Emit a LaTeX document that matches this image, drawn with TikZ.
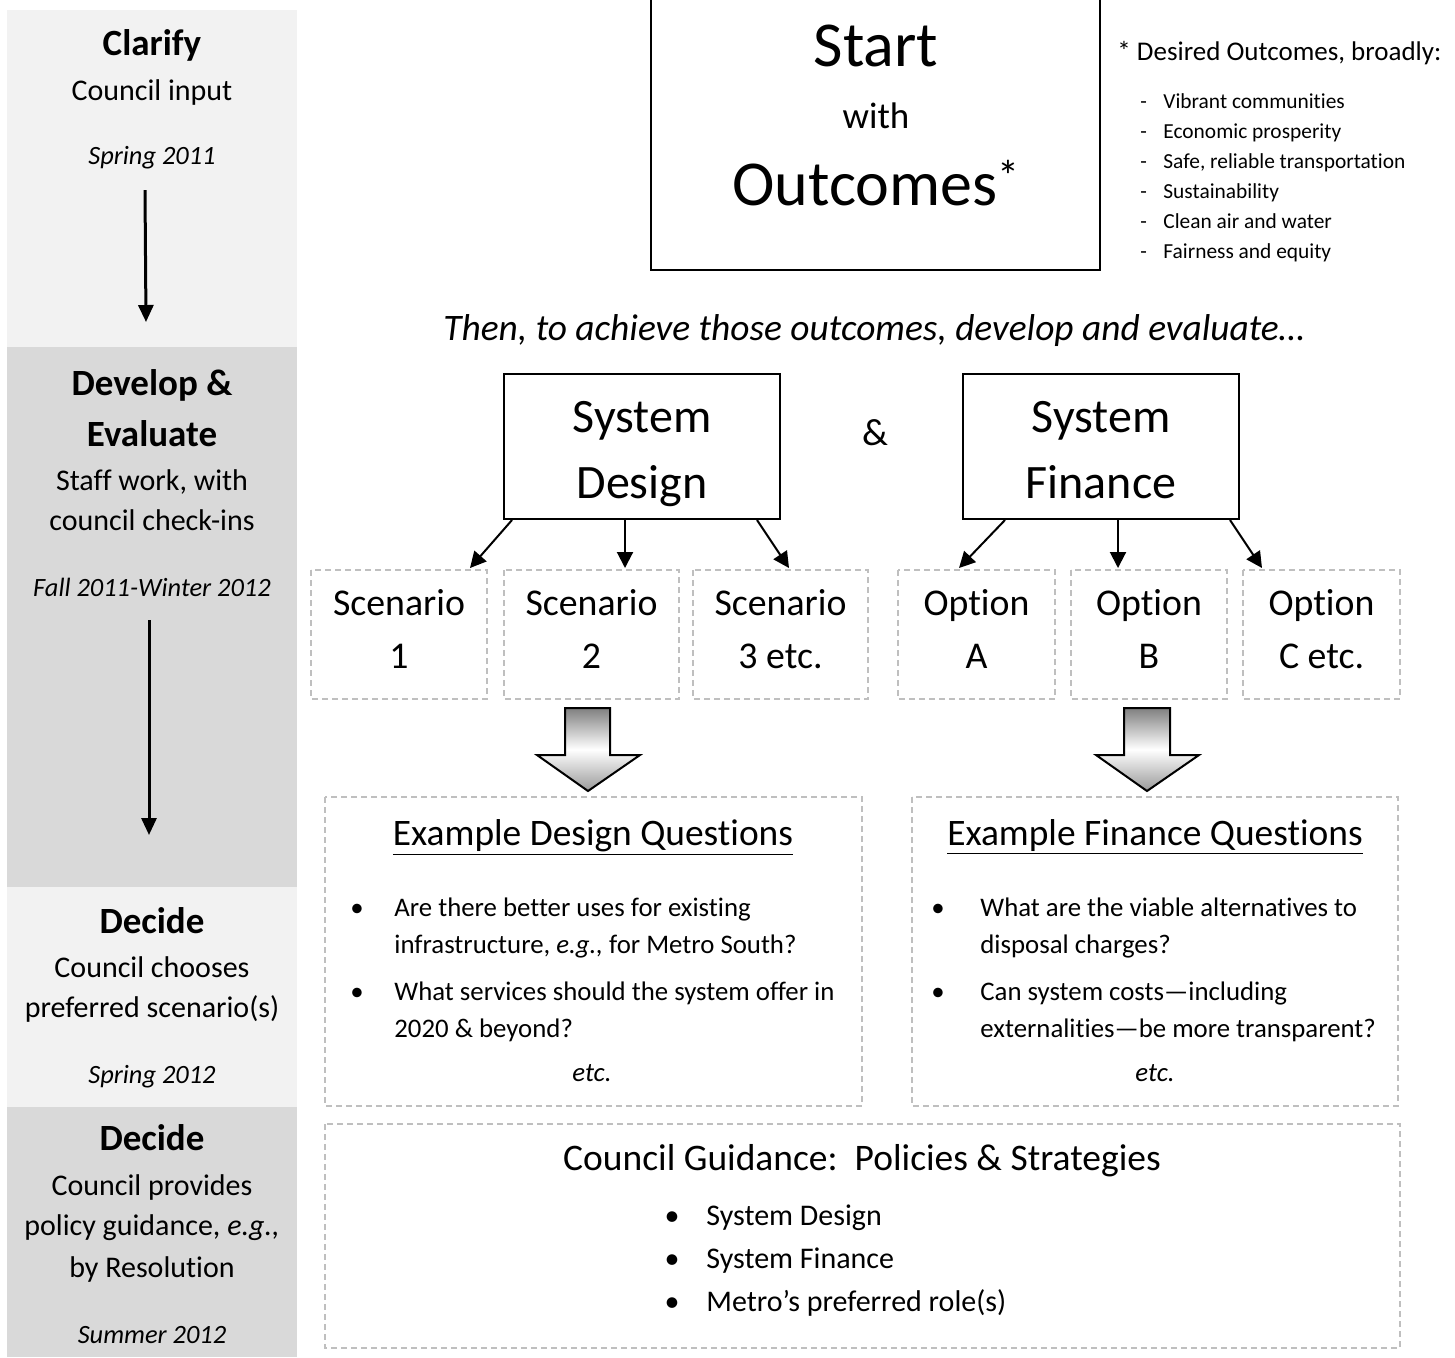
\documentclass[tikz,border=0pt]{standalone}
\usepackage{fontspec}
\setmainfont{Carlito}[Ligatures=NoCommon]
\usetikzlibrary{arrows.meta}
\definecolor{panellight}{HTML}{F2F2F2}
\definecolor{paneldark}{HTML}{D9D9D9}
\definecolor{dashgray}{HTML}{BFBFBF}
\newcommand{\fs}[1]{\fontsize{#1}{#1}\selectfont}
\tikzset{
  txt/.style={inner sep=0pt, anchor=base},
  ltxt/.style={inner sep=0pt, anchor=base west},
  solidbox/.style={draw=black, line width=0.75pt},
  dashbox/.style={draw=dashgray, line width=1pt, dash pattern=on 3pt off 2pt},
  thinarrow/.style={line width=1pt, -{Triangle[length=8pt,width=8pt]}},
  thickarrow/.style={line width=1.5pt, -{Triangle[length=8.5pt,width=7.5pt]}},
  bigarrow/.style={draw=black, line width=1pt, top color=gray, bottom color=gray!80, middle color=white},
}
\begin{document}
\begin{tikzpicture}[x=0.5pt,y=-0.5pt]
\useasboundingbox (0,0) rectangle (1455,1357);
% left panels
\fill[panellight] (7,10) rectangle (297,347);
\fill[paneldark] (7,347) rectangle (297,887);
\fill[panellight] (7,887) rectangle (297,1107);
\fill[paneldark] (7,1107) rectangle (297,1357);
\node[txt] (clarify) at (152,55) {\fs{18.5}\bfseries Clarify};
\node[txt] (cinput) at (152,100) {\fs{15}Council input};
\node[txt] (spr11) at (152,164) {\fs{13.2}\itshape Spring 2011};
\coordinate (a1s) at (145,190);
\coordinate (a1e) at (146,322);
\draw[thickarrow] (a1s) -- (a1e);
\node[txt] (dev) at (152,395) {\fs{18.5}\bfseries Develop \&};
\node[txt] (eval) at (152,446) {\fs{18.5}\bfseries Evaluate};
\node[txt] (staff) at (152,490) {\fs{15}Staff work, with};
\node[txt] (check) at (152,530) {\fs{15}council check-ins};
\node[txt] (fall) at (152,596) {\fs{13.2}\itshape Fall 2011-Winter 2012};
\coordinate (a2s) at (149,620);
\coordinate (a2e) at (149,835);
\draw[thickarrow] (a2s) -- (a2e);
\node[txt] (dec1) at (152,933) {\fs{18.5}\bfseries Decide};
\node[txt] (choose) at (152,977) {\fs{15}Council chooses};
\node[txt] (pref) at (152,1017) {\fs{15}preferred scenario(s)};
\node[txt] (spr12) at (152,1083) {\fs{13.2}\itshape Spring 2012};
\node[txt] (dec2) at (152,1150) {\fs{18.5}\bfseries Decide};
\node[txt] (prov) at (152,1195) {\fs{15}Council provides};
\node[txt] (pol) at (152,1235) {\fs{15}policy guidance, \textit{e.g.,}};
\node[txt] (res) at (152,1277) {\fs{15}by Resolution};
\node[txt] (sum12) at (152,1343) {\fs{13.2}\itshape Summer 2012};
% start box
\draw[solidbox] (651,-2) -- (651,270) -- (1100,270) -- (1100,-2);
\node[txt] (start) at (876,66) {\fs{32}Start};
\node[txt] (with) at (876,128) {\fs{18.5}with};
\node[txt] (outc) at (876,205) {\fs{32}Outcomes\raisebox{7pt}{\fs{22}*}};
% desired outcomes
\node[ltxt] (desired) at (1117,60) {\fs{13.5}* Desired Outcomes, broadly:};
\foreach \t/\y [count=\i] in {Vibrant communities/108, Economic prosperity/138, {Safe, reliable transportation}/168, Sustainability/198, Clean air and water/228, Fairness and equity/258}{
  \node[ltxt] (dash\i) at (1140,\y) {\fs{10.7}-};
  \node[ltxt] (oc\i) at (1163,\y) {\fs{10.7}\t};
}
\node[txt] (then) at (874,340) {\fs{18.7}\itshape Then, to achieve those outcomes, develop and evaluate\ldots};
% system boxes
\node[solidbox, minimum width=138pt, minimum height=72.5pt, inner sep=0pt] (sd) at (642,446.5) {};
\node[txt] (sd1) at (642,432) {\fs{24}System};
\node[txt] (sd2) at (642,498) {\fs{24}Design};
\node[txt] (amp) at (875,445) {\fs{19}\&};
\node[solidbox, minimum width=138pt, minimum height=72.5pt, inner sep=0pt] (sf) at (1101,446.5) {};
\node[txt] (sf1) at (1101,432) {\fs{24}System};
\node[txt] (sf2) at (1101,498) {\fs{24}Finance};
% scenario/option boxes
\foreach \n/\xa/\xb/\la/\lb in {s1/311/487/Scenario/1, s2/504/679/Scenario/2, s3/693/868/Scenario/3 etc., oa/898/1055/Option/A, ob/1071/1227/Option/B, oc/1243/1400/Option/C etc.}{
  \draw[dashbox] (\xa,570) rectangle (\xb,699);
  \coordinate (\n) at ({(\xa+\xb)/2},570);
  \node[txt] (\n t1) at ({(\xa+\xb)/2},615) {\fs{18.9}\la};
  \node[txt] (\n t2) at ({(\xa+\xb)/2},668) {\fs{18.9}\lb};
}
\coordinate (sdl) at (512,520); \coordinate (sdm) at (625,520); \coordinate (sdr) at (757,520);
\coordinate (s1e) at (470,568); \coordinate (s2e) at (625,568); \coordinate (s3e) at (789,568);
\draw[thinarrow] (sdl) -- (s1e);
\draw[thinarrow] (sdm) -- (s2e);
\draw[thinarrow] (sdr) -- (s3e);
\coordinate (sfl) at (1005,520); \coordinate (sfm) at (1118,520); \coordinate (sfr) at (1230,520);
\coordinate (oae) at (959,568); \coordinate (obe) at (1118,568); \coordinate (oce) at (1262,568);
\draw[thinarrow] (sfl) -- (oae);
\draw[thinarrow] (sfm) -- (obe);
\draw[thinarrow] (sfr) -- (oce);
% gradient arrows
\path[bigarrow] (565,708) -- (610,708) -- (610,755) -- (640,755) -- (588,791) -- (537,755) -- (565,755) -- cycle;
\path[bigarrow] (1124,708) -- (1170,708) -- (1170,755) -- (1199,755) -- (1147,791) -- (1096,755) -- (1124,755) -- cycle;
% question boxes
\draw[dashbox] (325,797) rectangle (862,1106);
\node[txt] (dqt) at (593,845) {\fs{18.7}\underline{Example Design Questions}};
\node[txt] (db1) at (357,916) {\fs{13.4}•};
\node[ltxt] (dq1a) at (394,916) {\fs{13.4}Are there better uses for existing};
\node[ltxt] (dq1b) at (394,953) {\fs{13.4}infrastructure, \textit{e.g.,} for Metro South?};
\node[txt] (db2) at (357,1000) {\fs{13.4}•};
\node[ltxt] (dq2a) at (394,1000) {\fs{13.4}What services should the system offer in};
\node[ltxt] (dq2b) at (394,1037) {\fs{13.4}2020 \& beyond?};
\node[txt] (detc) at (592,1081) {\fs{13.4}\itshape etc.};
\draw[dashbox] (912,797) rectangle (1398,1106);
\node[txt] (fqt) at (1155,845) {\fs{18.7}\underline{Example Finance Questions}};
\node[txt] (fb1) at (938,916) {\fs{13.4}•};
\node[ltxt] (fq1a) at (980,916) {\fs{13.4}What are the viable alternatives to};
\node[ltxt] (fq1b) at (980,953) {\fs{13.4}disposal charges?};
\node[txt] (fb2) at (938,1000) {\fs{13.4}•};
\node[ltxt] (fq2a) at (980,1000) {\fs{13.4}Can system costs—including};
\node[ltxt] (fq2b) at (980,1037) {\fs{13.4}externalities—be more transparent?};
\node[txt] (fetc) at (1155,1081) {\fs{13.4}\itshape etc.};
% council guidance
\draw[dashbox] (325,1124) rectangle (1400,1348);
\node[txt] (cgt) at (862,1170) {\fs{18.75}Council Guidance:\ \ Policies \& Strategies};
\foreach \t/\y [count=\i] in {System Design/1225, System Finance/1268, Metro’s preferred role(s)/1311}{
  \node[txt] (cgb\i) at (672,\y) {\fs{15}•};
  \node[ltxt] (cg\i) at (706,\y) {\fs{15}\t};
}
\end{tikzpicture}
\end{document}
